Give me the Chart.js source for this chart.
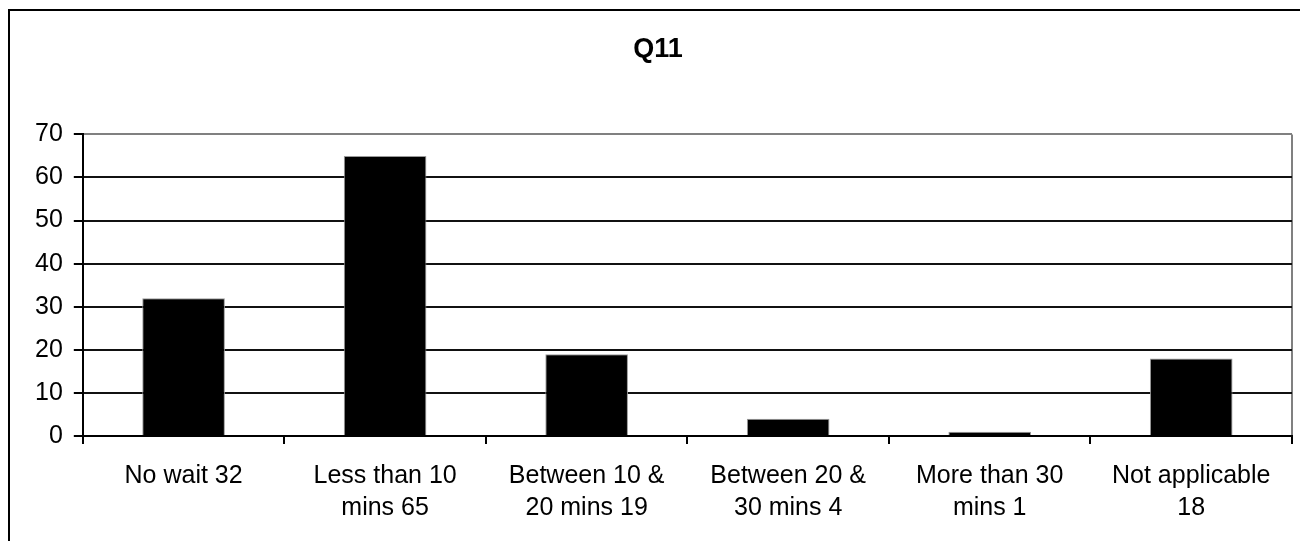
<!DOCTYPE html>
<html>
<head>
<meta charset="utf-8">
<script src="https://cdn.jsdelivr.net/npm/chart.js@4"></script>
<style>
  body { margin: 0; background: #fff; overflow: hidden; }
  #frame { position: absolute; left: 8px; top: 9px; width: 1400px; height: 700px;
           border-left: 2px solid #000; border-top: 2px solid #000; }
  #myChart { position: absolute; left: 0; top: 0; }
</style>
</head>
<body>
<div id="frame"></div>
<canvas id="myChart" width="1300" height="541"></canvas>
<script>
const categories = [
  ['No wait 32'],
  ['Less than 10', 'mins 65'],
  ['Between 10 &', '20 mins 19'],
  ['Between 20 &', '30 mins 4'],
  ['More than 30', 'mins 1'],
  ['Not applicable', '18']
];
const responses = [32, 65, 19, 4, 1, 18];
const yMax = 70;
const yStep = 10;

const font = { family: '"Liberation Sans", Arial, sans-serif', size: 25 };

new Chart(document.getElementById('myChart'), {
  type: 'bar',
  data: {
    labels: categories,
    datasets: [{
      label: 'Q11',
      data: responses,
      backgroundColor: '#000',
      borderColor: '#9a9a9a',
      borderWidth: 1,
      categoryPercentage: 1,
      barPercentage: 0.41
    }]
  },
  options: {
    responsive: false,
    animation: false,
    layout: { padding: { left: 24, right: 8, top: 0, bottom: 1 } },
    plugins: {
      legend: { display: false },
      tooltip: { enabled: false },
      title: {
        display: true,
        text: 'Q11',
        color: '#000',
        font: { family: font.family, size: 27, weight: 'bold' },
        padding: { top: 33, bottom: 69 }
      }
    },
    scales: {
      x: {
        grid: {
          offset: true,
          color: c => c.type === 'tick' ? 'rgba(0,0,0,0)' : '#808080',
          tickColor: '#000',
          lineWidth: 2,
          tickLength: 8
        },
        border: { color: '#000', width: 2 },
        ticks: { color: '#000', font: { ...font, lineHeight: 1.28 }, padding: 16, maxRotation: 0, autoSkip: false }
      },
      y: {
        min: 0,
        max: yMax,
        grid: {
          color: c => c.tick && c.tick.value === yMax ? '#808080' : '#111',
          tickColor: '#000',
          lineWidth: 2,
          tickLength: 9
        },
        border: { color: '#000', width: 2 },
        ticks: { stepSize: yStep, color: '#000', font: font, padding: 11 }
      }
    }
  }
});
</script>
</body>
</html>
